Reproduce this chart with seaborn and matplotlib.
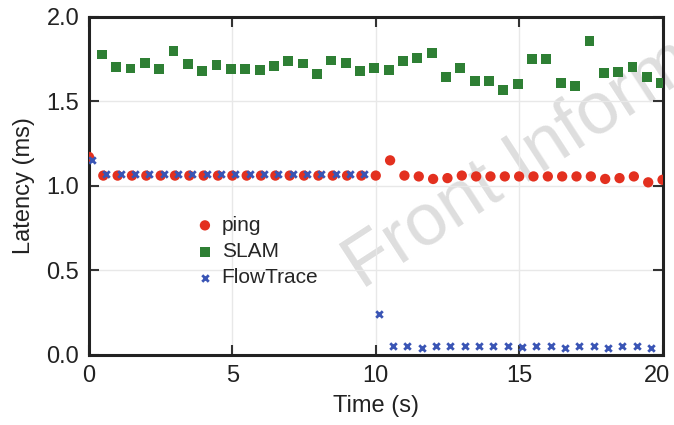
"""
Latency over time for ping, SLAM and FlowTrace.
"""

import matplotlib
matplotlib.use("Agg")
import matplotlib.pyplot as plt
import matplotlib.transforms as mtransforms
import seaborn as sns
import pandas as pd

# sample times (s)
ping_t = [0.0, 0.5, 1.0, 1.5, 2.0, 2.5, 3.0, 3.5, 4.0, 4.5,
          5.0, 5.5, 6.0, 6.5, 7.0, 7.5, 8.0, 8.5, 9.0, 9.5,
          10.0, 10.5, 11.0, 11.5, 12.0, 12.5, 13.0, 13.5, 14.0, 14.5,
          15.0, 15.5, 16.0, 16.5, 17.0, 17.5, 18.0, 18.5, 19.0, 19.5, 20.0]
slam_t = [0.45, 0.95, 1.45, 1.95, 2.45, 2.95, 3.45, 3.95, 4.45, 4.95,
          5.45, 5.95, 6.45, 6.95, 7.45, 7.95, 8.45, 8.95, 9.45, 9.95,
          10.45, 10.95, 11.45, 11.95, 12.45, 12.95, 13.45, 13.95, 14.45, 14.95,
          15.45, 15.95, 16.45, 16.95, 17.45, 17.95, 18.45, 18.95, 19.45, 19.95]
flow_t = [0.1, 0.6, 1.1, 1.6, 2.1, 2.6, 3.1, 3.6, 4.1, 4.6,
          5.1, 5.6, 6.1, 6.6, 7.1, 7.6, 8.1, 8.6, 9.1, 9.6,
          10.1, 10.6, 11.1, 11.6, 12.1, 12.6, 13.1, 13.6, 14.1, 14.6,
          15.1, 15.6, 16.1, 16.6, 17.1, 17.6, 18.1, 18.6, 19.1, 19.6]

# latency values (ms)
ping_ms = [1.17, 1.06, 1.06, 1.06, 1.06, 1.06, 1.06, 1.06, 1.06, 1.06,
           1.06, 1.06, 1.06, 1.06, 1.06, 1.06, 1.06, 1.06, 1.06, 1.06,
           1.06, 1.15, 1.06, 1.055, 1.04, 1.045, 1.06, 1.055, 1.055, 1.055,
           1.055, 1.055, 1.055, 1.055, 1.055, 1.055, 1.04, 1.045, 1.055, 1.02, 1.035]
slam_ms = [1.776, 1.703, 1.693, 1.727, 1.689, 1.796, 1.719, 1.676, 1.713, 1.689,
           1.689, 1.685, 1.707, 1.738, 1.723, 1.662, 1.740, 1.727, 1.676, 1.697,
           1.683, 1.736, 1.756, 1.786, 1.642, 1.697, 1.620, 1.618, 1.565, 1.599,
           1.750, 1.750, 1.605, 1.591, 1.855, 1.667, 1.670, 1.703, 1.644, 1.605]
flow_ms = [1.15, 1.07, 1.07, 1.07, 1.07, 1.07, 1.07, 1.07, 1.07, 1.07,
           1.07, 1.07, 1.07, 1.07, 1.07, 1.07, 1.07, 1.07, 1.07, 1.07,
           0.24, 0.053, 0.053, 0.04, 0.053, 0.053, 0.053, 0.053, 0.053, 0.053,
           0.045, 0.053, 0.053, 0.04, 0.053, 0.053, 0.04, 0.053, 0.053, 0.04]

x_ticks = [0, 5, 10, 15, 20]
y_ticks = [0.0, 0.5, 1.0, 1.5, 2.0]

sns.set_style("ticks")
plt.rcParams['font.family'] = ['Liberation Sans', 'DejaVu Sans']

fig = plt.figure(figsize=(6.74, 4.25), dpi=100)
ax = fig.add_axes([0.132, 0.165, 0.851, 0.796])

ping = pd.DataFrame({"t": ping_t, "ms": ping_ms})
slam = pd.DataFrame({"t": slam_t, "ms": slam_ms})
flow = pd.DataFrame({"t": flow_t, "ms": flow_ms})

# watermark from the source figure
ax.text(0.475, 0.192, "Front Inform", transform=ax.transAxes, rotation=33,
        rotation_mode='anchor', fontsize=53, color='#dedede',
        ha='left', va='baseline', clip_on=False, zorder=0.5)

sns.scatterplot(data=ping, x="t", y="ms", ax=ax, marker='o', s=55,
                color='#e3301f', edgecolor='none', label='ping', zorder=3)
sns.scatterplot(data=slam, x="t", y="ms", ax=ax, marker='s', s=50,
                color='#2e7f34', edgecolor='none', label='SLAM', zorder=3)
sns.scatterplot(data=flow, x="t", y="ms", ax=ax, marker='x', s=22,
                color='#3a55b5', linewidth=2, label='FlowTrace', zorder=4)

ax.set_xlim(0, 20)
ax.set_ylim(0, 2.0)
ax.set_xticks(x_ticks)
ax.set_yticks(y_ticks)
ax.set_yticklabels([f"{v:.1f}" for v in y_ticks])
ax.grid(True, color='#e8e8e8', linewidth=1)
ax.set_axisbelow(True)
ax.tick_params(direction='in', length=7, width=1.5, top=True, right=True,
               labelsize=17, pad=7, colors='#333333', labelcolor='#222222')
for sp in ax.spines.values():
    sp.set_linewidth(2.2)
    sp.set_color('#222222')

# nudge the last x tick label so it stays inside the figure
last = ax.get_xticklabels()[-1]
last.set_transform(last.get_transform() +
                   mtransforms.ScaledTranslation(-4 / 72, 0, fig.dpi_scale_trans))

ax.set_xlabel("Time (s)", fontsize=17, labelpad=6, color='#222222')
ax.set_ylabel("Latency (ms)", fontsize=17, labelpad=8, color='#222222')

ax.legend(loc='upper left', bbox_to_anchor=(0.184, 0.411), frameon=False,
          fontsize=15, handlelength=1.0, handletextpad=0.3,
          labelspacing=0.35, borderpad=0, borderaxespad=0)

fig.savefig("out.png", dpi=100)
